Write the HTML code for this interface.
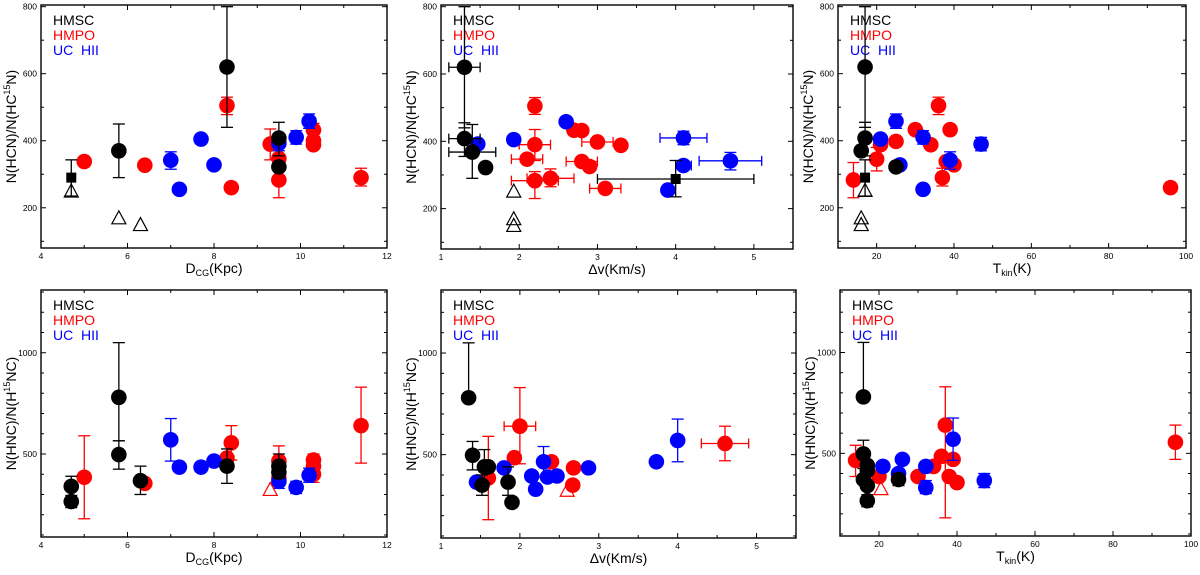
<!DOCTYPE html>
<html><head><meta charset="utf-8"><style>
html,body{margin:0;padding:0;background:#fff;}
svg{display:block;font-family:"Liberation Sans",sans-serif;}
</style></head><body>
<svg id="chart" width="1200" height="575" viewBox="0 0 1200 575" xmlns="http://www.w3.org/2000/svg"></svg>
<script>
// point tuples: [x, y, yLow, yHigh, xLow, xHigh] (null = no error bar)
const p1Black = [[5.8,370,290,450],[8.3,620,440,800],[9.5,408,355,455],[9.5,322,null,null]];
const p1BlackSq = [[4.7,290,235,343]];
const p1Tri = [[4.7,250],[5.8,170],[6.3,150]];
const p1Red = [[5.0,338],[6.4,327],[8.3,505,478,530],[8.4,260],[9.3,390,343,435],[9.5,347],[9.5,283,230,310],[10.3,432,410,452],[10.3,400],[10.3,388],[11.4,290,265,318]];
const p1Blue = [[7.0,342,315,367],[7.2,255],[7.7,405],[8.0,328],[9.5,392,370,412],[9.9,410,390,430],[10.2,458,437,480]];

const p2Black = [[1.3,620,440,800,1.1,1.5],[1.3,408,355,455,1.1,1.5],[1.4,368,290,450,1.1,1.7],[1.57,322]];
const p2BlackSq = [[4.0,288,235,343,3.0,5.0]];
const p2Tri = [[1.93,252],[1.93,170],[1.93,150]];
const p2Red = [[2.2,505,480,530],[2.7,433],[2.8,432],[3.0,398,null,null,2.8,3.2],[3.3,388],[2.2,390,343,435,2.0,2.4],[2.1,347,null,null,1.9,2.3],[2.8,340,null,null,2.6,3.0],[2.9,325],[2.2,283,230,310,1.9,2.5],[2.4,290,265,318,2.1,2.7],[3.1,260,null,null,2.9,3.3]];
const p2Blue = [[1.47,392],[1.93,405],[2.6,458],[4.1,410,390,430,3.8,4.4],[4.1,328,null,null,4.0,4.2],[4.7,342,315,367,4.3,5.1],[3.9,255]];

const p3Black = [[17,620,440,800],[17,408,355,455],[16,370],[25,322]];
const p3BlackSq = [[17,290,235,343]];
const p3Tri = [[17,252],[16,170],[16,150]];
const p3Red = [[14,283,230,335],[20,345,310,380],[21,388],[25,398],[30,433],[34,388],[36,505,478,530],[39,433],[38,338],[40,328],[37,290,265,318],[96,260]];
const p3Blue = [[21,405],[25,458,437,480],[26,328],[32,410,390,430],[32,255],[39,342,315,367],[47,390,370,410]];

const p4Black = [[4.7,340,null,390],[4.7,265,235,295],[5.8,780,565,1050],[5.8,497,425,565],[6.3,368,300,440],[8.3,440,355,525],[9.5,440,380,500],[9.5,410]];
const p4Tri = [[9.3,325]];
const p4Red = [[5.0,385,180,590],[6.4,355],[8.3,480],[8.4,555,470,640],[9.5,465,390,540],[9.5,380],[10.3,470,440,500],[10.3,440],[10.3,400,360,440],[11.4,640,455,830]];
const p4Blue = [[7.0,570,465,675],[7.2,435],[7.7,435],[8.0,465],[9.5,365,330,400],[9.9,335,305,365],[10.2,395,360,430]];

const p5Black = [[1.35,780,null,1050],[1.4,497,425,565],[1.55,440,360,525],[1.6,440],[1.52,350,300,400],[1.85,365,300,440],[1.9,265]];
const p5Tri = [[2.6,325]];
const p5Red = [[2.0,640,455,830,1.8,2.2],[1.93,485],[2.4,465],[2.68,435],[2.67,350],[1.6,385,180,590],[4.6,555,470,640,4.3,4.9]];
const p5Blue = [[1.45,365],[1.8,435],[2.3,465,390,540],[2.15,395],[2.35,390],[2.47,395],[2.2,330],[2.87,435],[3.73,465],[4.0,570,465,675]];

const p6Black = [[16,780,null,1050],[16,497,425,565],[17,440],[17,415],[16,370],[17,340],[17,265,235,295],[25,370,340,400]];
const p6Tri = [[20.5,325]];
const p6Red = [[14,465,385,540],[20,385],[30,385],[34,435],[36,485],[37,640,180,830],[39,470],[38,385],[40,355],[96,555,470,640]];
const p6Blue = [[21,435],[25,400],[26,470],[32,435],[32,330,300,365],[39,570,465,675],[47,365,330,400]];

const xTicksD = [4,6,8,10,12];
const xTicksV = [1,2,3,4,5];
const xTicksT = [20,40,60,80,100];
const yTicksTop = [200,400,600,800];
const yTicksBot = [500,1000];

const NS = "http://www.w3.org/2000/svg";
const svg = document.getElementById('chart');
function mk(tag, attrs, parent){const e=document.createElementNS(NS,tag);for(const k in attrs)e.setAttribute(k,attrs[k]);(parent||svg).appendChild(e);return e;}

const panels = [
 {id:'p1',L:41,R:387,T:5,B:248,xmin:4,xmax:12,ymin:80,ymax:805,xt:xTicksD,xminor:1,yt:yTicksTop,yminor:100,top:true,xl:'D',xs:'CG',xu:'(Kpc)',black:p1Black,sq:p1BlackSq,tri:p1Tri,triC:'#000',red:p1Red,blue:p1Blue},
 {id:'p2',L:441,R:793,T:5,B:249,xmin:1,xmax:5.5,ymin:80,ymax:805,xt:xTicksV,xminor:0.5,yt:yTicksTop,yminor:100,top:true,xl:'Δv(Km/s)',black:p2Black,sq:p2BlackSq,tri:p2Tri,triC:'#000',red:p2Red,blue:p2Blue},
 {id:'p3',L:838,R:1186,T:5,B:248,xmin:10,xmax:100,ymin:80,ymax:805,xt:xTicksT,xminor:10,yt:yTicksTop,yminor:100,top:true,xl:'T',xs:'kin',xu:'(K)',black:p3Black,sq:p3BlackSq,tri:p3Tri,triC:'#000',red:p3Red,blue:p3Blue},
 {id:'p4',L:41,R:387,T:290,B:537,xmin:4,xmax:12,ymin:90,ymax:1310,xt:xTicksD,xminor:1,yt:yTicksBot,yminor:100,top:false,xl:'D',xs:'CG',xu:'(Kpc)',black:p4Black,sq:[],tri:p4Tri,triC:'#f00',red:p4Red,blue:p4Blue},
 {id:'p5',L:441,R:796,T:290,B:538,xmin:1,xmax:5.5,ymin:90,ymax:1310,xt:xTicksV,xminor:0.5,yt:yTicksBot,yminor:100,top:false,xl:'Δv(Km/s)',black:p5Black,sq:[],tri:p5Tri,triC:'#f00',red:p5Red,blue:p5Blue},
 {id:'p6',L:840,R:1191,T:290,B:536,xmin:10,xmax:100,ymin:90,ymax:1310,xt:xTicksT,xminor:10,yt:yTicksBot,yminor:100,top:false,xl:'T',xs:'kin',xu:'(K)',black:p6Black,sq:[],tri:p6Tri,triC:'#f00',red:p6Red,blue:p6Blue},
];

panels.forEach(p=>{
  const g = mk('g',{});
  
  
  const X = v=>p.L+(v-p.xmin)/(p.xmax-p.xmin)*(p.R-p.L);
  const Y = v=>p.B-(v-p.ymin)/(p.ymax-p.ymin)*(p.B-p.T);
  const fr = mk('rect',{x:p.L,y:p.T,width:p.R-p.L,height:p.B-p.T,fill:'none',stroke:'#000','stroke-width':1.4},g);
  
  
  for(let v=Math.ceil(p.xmin/p.xminor)*p.xminor; v<=p.xmax+1e-9; v+=p.xminor){
    const major = p.xt.some(t=>Math.abs(t-v)<1e-6);
    const len = major?5:3, x=X(v);
    mk('line',{x1:x,x2:x,y1:p.B,y2:p.B-len,stroke:'#000','stroke-width':1},g);
    mk('line',{x1:x,x2:x,y1:p.T,y2:p.T+len,stroke:'#000','stroke-width':1},g);
  }
  p.xt.forEach(v=>{
    const t = mk('text',{x:X(v),y:p.B+11,'font-size':8.5,'text-anchor':'middle',fill:'#000'},g);
    t.textContent=v;
    
    
  });
  for(let v=Math.ceil(p.ymin/p.yminor)*p.yminor; v<=p.ymax; v+=p.yminor){
    const major = p.yt.includes(v);
    const len = major?5:3, y=Y(v);
    mk('line',{x1:p.L,x2:p.L+len,y1:y,y2:y,stroke:'#000','stroke-width':1},g);
    mk('line',{x1:p.R,x2:p.R-len,y1:y,y2:y,stroke:'#000','stroke-width':1},g);
  }
  p.yt.forEach(v=>{
    const t = mk('text',{x:p.L-4,y:Y(v)+3,'font-size':8.5,'text-anchor':'end',fill:'#000'},g);
    t.textContent=v;
    
    
  });
  const xt = mk('text',{x:(p.L+p.R)/2,y:p.B+25,'font-size':14,'text-anchor':'middle',fill:'#000'},g);
  
  
  if(p.xs){
    mk('tspan',{},xt).textContent=p.xl;
    mk('tspan',{'font-size':9,dy:3},xt).textContent=p.xs;
    mk('tspan',{dy:-3},xt).textContent=p.xu;
  } else xt.textContent=p.xl;
  const cy=(p.T+p.B)/2, cx=p.L-25;
  const yt = mk('text',{x:cx,y:cy,'font-size':14,'text-anchor':'middle',fill:'#000',transform:`rotate(-90 ${cx} ${cy})`},g);
  
  
  if(p.top){
    mk('tspan',{},yt).textContent='N(HCN)/N(HC';
    mk('tspan',{'font-size':9,dy:-6},yt).textContent='15';
    mk('tspan',{dy:6},yt).textContent='N)';
  } else {
    mk('tspan',{},yt).textContent='N(HNC)/N(H';
    mk('tspan',{'font-size':9,dy:-6},yt).textContent='15';
    mk('tspan',{dy:6},yt).textContent='NC)';
  }
  [['HMSC','#000'],['HMPO','#f00'],['UC\u00a0\u00a0HII','#00f']].forEach((l,i)=>{
    const t = mk('text',{x:p.L+12,y:p.T+20+i*15,'font-size':14,fill:l[1]},g);
    t.textContent=l[0];
    
    
  });
  const clip = mk('g',{},g);
  function errs(d,col){
    const x=X(d[0]), y=Y(d[1]);
    if(d[2]!=null || d[3]!=null){
      const lo = d[2]!=null?Y(d[2]):y, hi = d[3]!=null?Y(d[3]):y;
      mk('line',{x1:x,x2:x,y1:lo,y2:hi,stroke:col,'stroke-width':1.3},clip);
      if(d[2]!=null) mk('line',{x1:x-6,x2:x+6,y1:lo,y2:lo,stroke:col,'stroke-width':1.3},clip);
      if(d[3]!=null) mk('line',{x1:x-6,x2:x+6,y1:hi,y2:hi,stroke:col,'stroke-width':1.3},clip);
    }
    if(d[4]!=null){
      const a=X(d[4]), b=X(d[5]);
      mk('line',{x1:a,x2:b,y1:y,y2:y,stroke:col,'stroke-width':1.3},clip);
      mk('line',{x1:a,x2:a,y1:y-5,y2:y+5,stroke:col,'stroke-width':1.3},clip);
      mk('line',{x1:b,x2:b,y1:y-5,y2:y+5,stroke:col,'stroke-width':1.3},clip);
    }
  }
  [[p.red,'#f00','hmpo'],[p.blue,'#00f','uchii'],[p.black,'#000','hmsc']].forEach(s=>{
    s[0].forEach(d=>{
      errs(d,s[1]);
      const c = mk('circle',{cx:X(d[0]),cy:Y(d[1]),r:7.8,fill:s[1]},clip);
      
      
    });
  });
  p.sq.forEach(d=>{
    errs(d,'#000');
    const r = mk('rect',{x:X(d[0])-5,y:Y(d[1])-5,width:10,height:10,fill:'#000'},clip);
    
    
  });
  p.tri.forEach(d=>{
    const x=X(d[0]), y=Y(d[1]);
    const t = mk('polygon',{points:`${x-7},${y+6} ${x+7},${y+6} ${x},${y-7}`,fill:'none',stroke:p.triC,'stroke-width':1.2},clip);
    
    
  });
});
</script>
</body></html>
